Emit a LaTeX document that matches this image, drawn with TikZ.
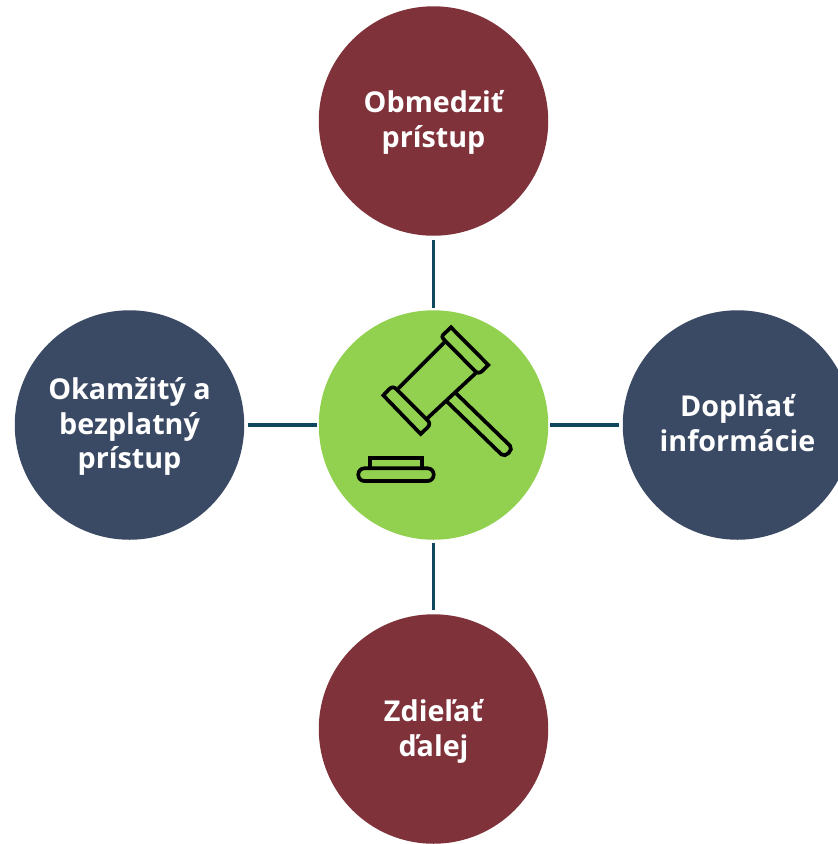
\documentclass[tikz,border=0pt]{standalone}
\usepackage{fontspec}
\setmainfont{Open Sans}
\definecolor{wine}{HTML}{7F323A}
\definecolor{slate}{HTML}{3B4A64}
\definecolor{leaf}{HTML}{92D050}
\definecolor{teal}{HTML}{0F4761}
\tikzset{
  x=1pt,y=-1pt,
  disc/.style={circle,minimum size=229.5pt,inner sep=0pt},
  lab/.style={inner sep=0pt,text=white,align=center,font=\fontsize{28.7}{34.8}\selectfont\bfseries},
  link/.style={draw=teal,line width=3.5pt},
  icon/.style={draw=black,line width=3.7pt,line join=miter}
}
\begin{document}
\begin{tikzpicture}
\useasboundingbox (0,0) rectangle (838,844);
\begin{scope}
\clip (0,0) rectangle (838,844);
\node[disc,fill=leaf] (c) at (433.5,425) {};
\node[disc,fill=wine,label={[lab,yshift=-1.7pt]center:Obmedziť\\prístup}] (t) at (433.5,121) {};
\node[disc,fill=wine,label={[lab,yshift=-2pt]center:Zdieľať\\ďalej}] (b) at (433.5,729) {};
\node[disc,fill=slate,label={[lab,yshift=-1.5pt]center:Okamžitý a\\bezplatný\\prístup}] (l) at (129.5,425) {};
\node[disc,fill=slate,label={[lab,yshift=1.8pt]center:Doplňať\\informácie}] (r) at (737.5,425) {};
\end{scope}
\draw[link,shorten <=4pt,shorten >=2pt] (t) -- (c);
\draw[link,shorten <=3pt,shorten >=4pt] (c) -- (b);
\draw[link,shorten <=3.5pt,shorten >=1.5pt] (l) -- (c);
\draw[link,shorten <=1.5pt,shorten >=3.5pt] (c) -- (r);
\begin{scope}[shift={(340,310)},x=0.3333pt,y=-0.3333pt]
\draw[icon] (313,97) -- (175,235) (412,185) -- (262,325);
\draw[icon] (333,52) -- (445,165) -- (428,182) .. controls (420,190) and (412,190) .. (405,183) -- (315,92) .. controls (305,82) and (305,78) .. (312,72) -- cycle;
\draw[icon] (130,256) -- (147,238) .. controls (155,230) and (162,230) .. (170,238) -- (262,330) .. controls (270,338) and (270,345) .. (262,353) -- (242,372) -- cycle;
\draw[icon] (345,247) -- (510,407) .. controls (522,419) and (496,445) .. (484,433) -- (322,276);
\draw[icon] (90,473) -- (90,445) -- (245,445) -- (245,473);
\draw[icon,rounded corners=6pt] (55,475) rectangle (281,513);
\end{scope}
\end{tikzpicture}
\end{document}
